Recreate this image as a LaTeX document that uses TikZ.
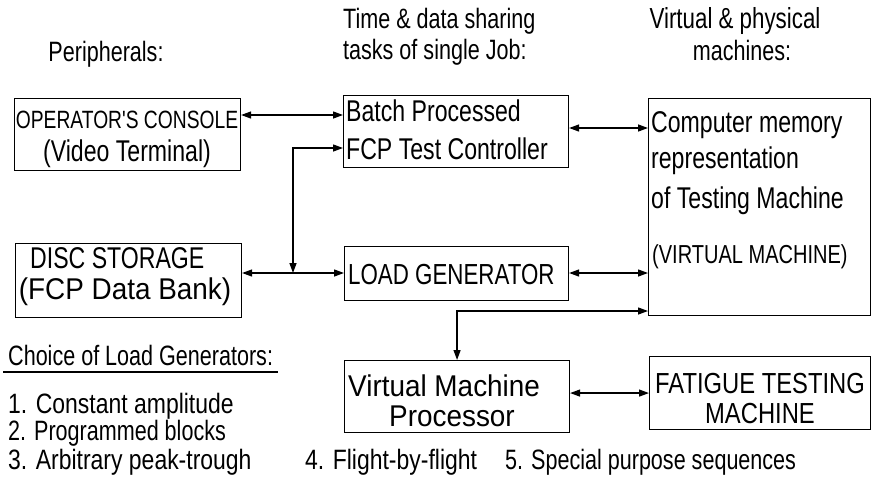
\documentclass[tikz,border=0pt]{standalone}
\usepackage{fontspec}
\setmainfont{Liberation Sans}
% two set widths of the same sans face
\newfontfamily\fN[FakeStretch=0.77]{Liberation Sans}
\newfontfamily\fB[FakeStretch=0.82]{Liberation Sans}
\newfontfamily\fW[FakeStretch=0.93]{Liberation Sans}
\newcommand\fsz[1]{\fontsize{#1}{#1}\selectfont}
\usetikzlibrary{arrows.meta}

\begin{document}
\begin{tikzpicture}[x=1pt,y=-1pt,
  box/.style={draw, line width=1.1pt, anchor=north west, inner sep=0pt},
  txt/.style={inner sep=0pt, anchor=base west},
  ctxt/.style={inner sep=0pt, anchor=base},
  tip/.tip={Triangle[length=10pt,width=7pt]},
  link/.style={line width=1.3pt, tip-tip}]

\useasboundingbox (0,0) rectangle (872,480);
\fill[white] (0,0) rectangle (872,480);

% ---- column headings
\node[ctxt, font={\fN\fsz{28}}] (hper) at (106,61) {Peripherals:};
\node[txt, font={\fN\fsz{28}}] (htime1) at (343,28) {Time \& data sharing};
\node[txt, font={\fN\fsz{28}}] (htime2) at (343,59) {tasks of single Job:};
\node[ctxt, font={\fN\fsz{29}}] (hvirt1) at (735,28) {Virtual \& physical};
\node[ctxt, font={\fN\fsz{28}}] (hvirt2) at (742,60) {machines:};

% ---- boxes
\node[box, minimum width=226pt, minimum height=72pt] (con) at (14,98) {};
\node[box, minimum width=225pt, minimum height=72pt] (bat) at (343,95) {};
\node[box, minimum width=222pt, minimum height=217pt] (mem) at (648,98) {};
\node[box, minimum width=226pt, minimum height=74pt] (dsk) at (15,243) {};
\node[box, minimum width=224pt, minimum height=54pt] (lg) at (344,246) {};
\node[box, minimum width=225pt, minimum height=72pt] (vmp) at (344,360) {};
\node[box, minimum width=221pt, minimum height=73pt] (fat) at (649,356) {};

% ---- box contents
\node[ctxt, font={\fN\fsz{25}}] (con1) at (127,128) {OPERATOR'S CONSOLE};
\node[ctxt, font={\fN\fsz{30}}] (con2) at (127,161) {(Video Terminal)};

\node[txt, font={\fN\fsz{30}}] (bat1) at (346,121) {Batch Processed};
\node[txt, font={\fN\fsz{30}}] (bat2) at (346,159) {FCP Test Controller};

\node[txt, font={\fN\fsz{30}}] (mem1) at (651,132) {Computer memory};
\node[txt, font={\fN\fsz{30}}] (mem2) at (651,168) {representation};
\node[txt, font={\fN\fsz{30}}] (mem3) at (651,208) {of Testing Machine};
\node[txt, font={\fN\fsz{26}}] (mem4) at (652,263) {(VIRTUAL MACHINE)};

\node[txt, font={\fN\fsz{30}}] (dsk1) at (30,268) {DISC STORAGE};
\node[ctxt, font={\fW\fsz{30}}] (dsk2) at (125,299) {(FCP Data Bank)};

\node[txt, font={\fN\fsz{29}}] (lg1) at (348,284) {LOAD GENERATOR};

\node[txt, font={\fW\fsz{30}}] (vmp1) at (348,396) {Virtual Machine};
\node[ctxt, font={\fW\fsz{30}}] (vmp2) at (452,426) {Processor};

\node[ctxt, font={\fB\fsz{29}}] (fat1) at (760,393) {FATIGUE TESTING};
\node[ctxt, font={\fB\fsz{29}}] (fat2) at (760,423) {MACHINE};

% ---- connector levels
\coordinate (r1) at (0,115);
\coordinate (r2) at (0,128);
\coordinate (r3) at (0,148);
\coordinate (j)  at (293,273);
\coordinate (r5) at (0,311);

\draw[link] (con.east |- r1) -- (bat.west |- r1);
\draw[link] (bat.east |- r2) -- (mem.west |- r2);
\draw[link] (bat.west |- r3) -- (j |- r3) -- (j);
\draw[link] (dsk.east |- j) -- (lg.west |- j);
\draw[link] (lg.east |- j) -- (mem.west |- j);
\draw[link] (mem.west |- r5) -- (vmp.north |- r5) -- (vmp.north);
\draw[link] (vmp.east |- fat.west) -- (fat.west);

% ---- list of load generators
\node[txt, font={\fN\fsz{28}}] (cho) at (8,365) {Choice of Load Generators:};
\draw[line width=1.1pt] (3,372) -- (278,372);
\node[txt, font={\fB\fsz{28}}] (it1) at (8,413) {1. Constant amplitude};
\node[txt, font={\fN\fsz{28}}] (it2) at (8,440) {2. Programmed blocks};
\node[txt, font={\fB\fsz{28}}] (it3) at (8,469) {3. Arbitrary peak-trough};
\node[txt, font={\fB\fsz{28}}] (it4) at (305,469) {4. Flight-by-flight};
\node[txt, font={\fN\fsz{28}}] (it5) at (505,469) {5. Special purpose sequences};

\end{tikzpicture}
\end{document}
